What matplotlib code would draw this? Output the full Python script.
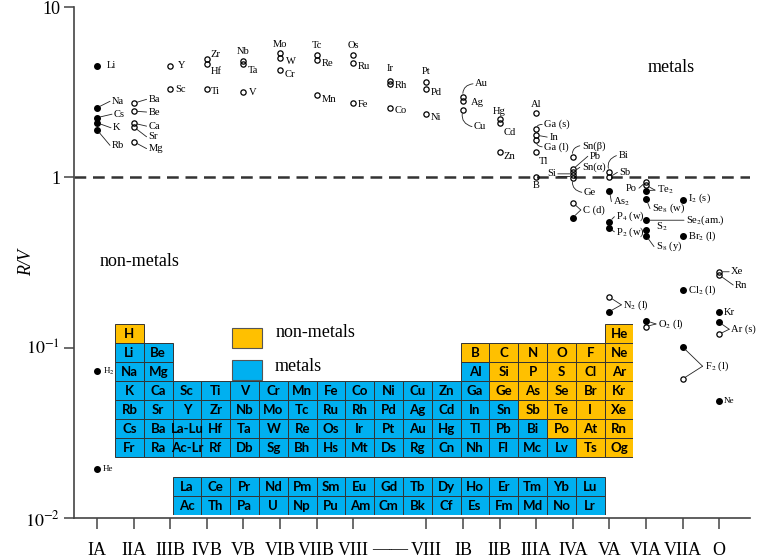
import matplotlib
matplotlib.use('Agg')
import matplotlib.pyplot as plt
from matplotlib.patches import Rectangle

plt.rcParams['font.family'] = ['Liberation Serif', 'DejaVu Serif']
plt.rcParams['mathtext.fontset'] = 'stix'

# R/V values (group column, value, filled = black dot)
names = ['Li', 'Na', 'Cs', 'K', 'Rb', 'H2', 'He',
         'Ba', 'Be', 'Ca', 'Sr', 'Mg',
         'Y', 'Sc', 'Zr', 'Hf', 'Ti', 'Nb', 'Ta', 'V',
         'Mo', 'W', 'Cr', 'Tc', 'Re', 'Mn',
         'Os', 'Ru', 'Fe', 'Ir', 'Rh', 'Co', 'Pt', 'Pd', 'Ni',
         'Au', 'Ag', 'Cu', 'Hg', 'Cd', 'Zn',
         'Al', 'Ga (s)', 'In', 'Ga (l)', 'Tl', 'B',
         'Sn(β)', 'Pb', 'Sn(α)', 'Si', 'Ge', 'C (d)', 'C (d)',
         'Bi', 'Sb', 'As2', 'P4 (w)', 'P2 (w)', 'N2 (l)', 'N2 (l)',
         'Po', 'Te2', 'Te2', 'Se8 (w)', 'Se2 (am.)', 'S2', 'S8 (y)', 'O2 (l)', 'O2 (l)',
         'I2 (s)', 'Br2 (l)', 'Cl2 (l)', 'F2 (l)', 'F2 (l)',
         'Xe', 'Rn', 'Kr', 'Ar (s)', 'Ar (s)', 'Ne']
groups = [1, 1, 1, 1, 1, 1, 1,
          2, 2, 2, 2, 2,
          3, 3, 4, 4, 4, 5, 5, 5,
          6, 6, 6, 7, 7, 7,
          8, 8, 8, 9, 9, 9, 10, 10, 10,
          11, 11, 11, 12, 12, 12,
          13, 13, 13, 13, 13, 13,
          14, 14, 14, 14, 14, 14, 14,
          15, 15, 15, 15, 15, 15, 15,
          16, 16, 16, 16, 16, 16, 16, 16, 16,
          17, 17, 17, 17, 17,
          18, 18, 18, 18, 18, 18]
rv = [4.52, 2.56, 2.24, 2.09, 1.90, 0.073, 0.0193,
      2.72, 2.45, 2.08, 1.98, 1.62,
      4.52, 3.30, 4.93, 4.63, 3.29, 4.82, 4.61, 3.16,
      5.35, 5.00, 4.27, 5.23, 4.89, 3.04,
      5.23, 4.67, 2.74, 3.69, 3.53, 2.54, 3.64, 3.30, 2.35,
      2.97, 2.82, 2.48, 2.19, 2.09, 1.41,
      2.40, 1.91, 1.77, 1.66, 1.40, 1.01,
      1.32, 1.115, 1.07, 1.03, 0.987, 0.71, 0.58,
      1.08, 1.00, 0.835, 0.549, 0.502, 0.198, 0.163,
      0.943, 0.90, 0.835, 0.75, 0.56, 0.49, 0.455, 0.144, 0.133,
      0.74, 0.45, 0.218, 0.101, 0.0655,
      0.279, 0.267, 0.161, 0.141, 0.120, 0.0489]
filled = [1, 1, 1, 1, 1, 1, 1,
          0, 0, 0, 0, 0,
          0, 0, 0, 0, 0, 0, 0, 0,
          0, 0, 0, 0, 0, 0,
          0, 0, 0, 0, 0, 0, 0, 0, 0,
          0, 0, 0, 0, 0, 0,
          0, 0, 0, 0, 0, 0,
          0, 0, 0, 0, 0, 0, 1,
          0, 0, 1, 1, 1, 0, 1,
          0, 0, 1, 1, 1, 1, 1, 1, 0,
          1, 1, 1, 1, 0,
          0, 0, 1, 1, 0, 1]

group_labels = ['IA', 'IIA', 'IIIB', 'IVB', 'VB', 'VIB', 'VIIB', 'VIII', '——',
                'VIII', 'IB', 'IIB', 'IIIA', 'IVA', 'VA', 'VIA', 'VIIA', 'O']

ptable = [
    ['H'] + [''] * 16 + ['He'],
    ['Li', 'Be'] + [''] * 10 + ['B', 'C', 'N', 'O', 'F', 'Ne'],
    ['Na', 'Mg'] + [''] * 10 + ['Al', 'Si', 'P', 'S', 'Cl', 'Ar'],
    ['K', 'Ca', 'Sc', 'Ti', 'V', 'Cr', 'Mn', 'Fe', 'Co', 'Ni', 'Cu', 'Zn', 'Ga', 'Ge', 'As', 'Se', 'Br', 'Kr'],
    ['Rb', 'Sr', 'Y', 'Zr', 'Nb', 'Mo', 'Tc', 'Ru', 'Rh', 'Pd', 'Ag', 'Cd', 'In', 'Sn', 'Sb', 'Te', 'I', 'Xe'],
    ['Cs', 'Ba', 'La-Lu', 'Hf', 'Ta', 'W', 'Re', 'Os', 'Ir', 'Pt', 'Au', 'Hg', 'Tl', 'Pb', 'Bi', 'Po', 'At', 'Rn'],
    ['Fr', 'Ra', 'Ac-Lr', 'Rf', 'Db', 'Sg', 'Bh', 'Hs', 'Mt', 'Ds', 'Rg', 'Cn', 'Nh', 'Fl', 'Mc', 'Lv', 'Ts', 'Og'],
]
lanth = ['La', 'Ce', 'Pr', 'Nd', 'Pm', 'Sm', 'Eu', 'Gd', 'Tb', 'Dy', 'Ho', 'Er', 'Tm', 'Yb', 'Lu']
actin = ['Ac', 'Th', 'Pa', 'U', 'Np', 'Pu', 'Am', 'Cm', 'Bk', 'Cf', 'Es', 'Fm', 'Md', 'No', 'Lr']
nonmetals = ['H', 'He', 'B', 'C', 'N', 'O', 'F', 'Ne', 'Si', 'P', 'S', 'Cl', 'Ar',
             'Ge', 'As', 'Se', 'Br', 'Kr', 'Sb', 'Te', 'I', 'Xe', 'Po', 'At', 'Rn', 'Ts', 'Og']

label_text = {'H2': 'H$_2$', 'As2': 'As$_2$', 'P4 (w)': 'P$_4$ (w)', 'P2 (w)': 'P$_2$ (w)',
              'N2 (l)': 'N$_2$ (l)', 'Te2': 'Te$_2$', 'Se8 (w)': 'Se$_8$ (w)',
              'Se2 (am.)': 'Se$_2$(am.)', 'S2': 'S$_2$', 'S8 (y)': 'S$_8$ (y)',
              'O2 (l)': 'O$_2$ (l)', 'I2 (s)': 'I$_2$ (s)', 'Br2 (l)': 'Br$_2$ (l)',
              'Cl2 (l)': 'Cl$_2$ (l)', 'F2 (l)': 'F$_2$ (l)'}

# label offsets in pixels from the first marker: dx, dy, connector, ha
label_pos = {
    'Li': (10, 0, None, 'left'), 'Na': (15, 6.5, 'line', 'left'), 'Cs': (17, 3.5, 'line', 'left'),
    'K': (16, -5, 'line', 'left'), 'Rb': (15, -15.5, 'line', 'left'),
    'H2': (6, 0, None, 'left'), 'He': (6, 0, None, 'left'),
    'Ba': (15, 4, 'line', 'left'), 'Be': (15, -1, 'line', 'left'), 'Ca': (15, -3, 'line', 'left'),
    'Sr': (15, -10, 'line', 'left'), 'Mg': (15, -7, 'line', 'left'),
    'Y': (8, 0, None, 'left'), 'Sc': (5, 0, None, 'left'),
    'Zr': (4, 5, None, 'left'), 'Hf': (4, -8, None, 'left'), 'Ti': (4, -2, None, 'left'),
    'Nb': (0, 9, None, 'center'), 'Ta': (4, -6, None, 'left'), 'V': (5, 0, None, 'left'),
    'Mo': (0, 9, None, 'center'), 'W': (6, -3, None, 'left'), 'Cr': (5, -5, None, 'left'),
    'Tc': (0, 9.5, None, 'center'), 'Re': (5, -4, None, 'left'), 'Mn': (5, -4, None, 'left'),
    'Os': (0, 9, None, 'center'), 'Ru': (5, -3, None, 'left'), 'Fe': (5, -2, None, 'left'),
    'Ir': (0, 12, None, 'center'), 'Rh': (5, -1, None, 'left'), 'Co': (5, -2, None, 'left'),
    'Pt': (0, 10, None, 'center'), 'Pd': (4, -3, None, 'left'), 'Ni': (4, -3, None, 'left'),
    'Au': (12, 13, 'curve-', 'left'), 'Ag': (8, -2, None, 'left'), 'Cu': (11, -16.5, 'curve+', 'left'),
    'Hg': (0, 8, None, 'center'), 'Cd': (4, -10, None, 'left'), 'Zn': (4, -5, None, 'left'),
    'Al': (0, 8, None, 'center'), 'Ga (s)': (8, 5, 'curve-', 'left'), 'In': (13, -2, 'line', 'left'),
    'Ga (l)': (8, -7, 'curve+', 'left'), 'Tl': (3, -9, None, 'left'), 'B': (0, -9, None, 'center'),
    'Sn(β)': (9, 11, 'curve-', 'left'), 'Pb': (17, 13, 'line', 'left'), 'Sn(α)': (9, 5, 'line', 'left'),
    'Si': (-17, 2, 'dline', 'right'), 'Ge': (11, -14, 'curve+', 'left'), 'C (d)': (10, -7.3, 'vee', 'left'),
    'Bi': (9, 16, 'curve-', 'left'), 'Sb': (10, 5, 'line', 'left'), 'As2': (4, -11, 'line', 'left'),
    'P4 (w)': (7, 5, 'line', 'left'), 'P2 (w)': (7, -3.5, 'line', 'left'), 'N2 (l)': (14, -7.7, 'vee', 'left'),
    'Po': (-9, -6.5, 'line', 'right'), 'Te2': (11, -5, 'vee', 'left'), 'Se8 (w)': (6, -10, 'line', 'left'),
    'Se2 (am.)': (40, 0, 'line', 'left'), 'S2': (10, 3, None, 'left'), 'S8 (y)': (10, -11, 'line', 'left'),
    'O2 (l)': (12, -3.3, 'vee', 'left'), 'I2 (s)': (5, 1, None, 'left'), 'Br2 (l)': (5, 0, None, 'left'),
    'Cl2 (l)': (5, 0, None, 'left'), 'F2 (l)': (22, -19.3, 'vee', 'left'),
    'Xe': (12, 0, 'line', 'left'), 'Rn': (16, -10, 'line', 'left'), 'Kr': (5, 0, None, 'left'),
    'Ar (s)': (12, -7, 'vee', 'left'), 'Ne': (5, 0, None, 'left'),
}

orange = '#FFC000'
blue = '#00B0F0'

fig = plt.figure(figsize=(7.58, 5.6), dpi=100)
ax = fig.add_axes([74 / 758, 42 / 560, 676 / 758, 511 / 560])
ax.set_yscale('log')
ax.set_ylim(0.01, 10)
ax.set_xlim(1 - 23 / 36.6, 1 + 653 / 36.6)
for s in ['top', 'right']:
    ax.spines[s].set_visible(False)
for s in ['left', 'bottom']:
    ax.spines[s].set_color('#444444')
    ax.spines[s].set_linewidth(1.2)

ax.set_yticks([0.01, 0.1, 1, 10])
ax.set_yticklabels(['$10^{-2}$', '$10^{-1}$', '1', '10'], fontsize=13)
ax.yaxis.set_minor_locator(matplotlib.ticker.NullLocator())
ax.tick_params(axis='y', length=7, width=1.1, color='#444444', pad=3)
ax.set_xticks(range(1, 19))
ax.set_xticklabels(group_labels, fontsize=13)
ax.tick_params(axis='x', length=8, width=1.1, color='#444444', pad=9)
ax.xaxis.get_major_ticks()[8].tick1line.set_visible(False)
ax.set_ylabel('R/V', fontsize=13, style='italic')
ax.yaxis.set_label_coords(-0.058, 0.5)

ax.axhline(1, color='#333333', lw=1.8, dashes=(4.7, 2.7))

xf = [g for g, f in zip(groups, filled) if f]
yf = [v for v, f in zip(rv, filled) if f]
xo = [g for g, f in zip(groups, filled) if not f]
yo = [v for v, f in zip(rv, filled) if not f]
ax.plot(xf, yf, 'o', ms=4, color='black', ls='none', zorder=3)
ax.plot(xo, yo, 'o', ms=3.8, mfc='none', mec='black', mew=0.9, ls='none', zorder=3)

ax.text(1.08, 0.32, 'non-metals', fontsize=13, va='center')
ax.text(16.05, 4.4, 'metals', fontsize=13, va='center')


def line(p, q, cs='arc3'):
    ax.annotate('', xy=p, xycoords='figure pixels', xytext=q, textcoords='figure pixels',
                arrowprops=dict(arrowstyle='-', color='#222222', lw=0.6, shrinkA=0, shrinkB=2.5,
                                connectionstyle=cs))


for key, (dx, dy, kind, ha) in label_pos.items():
    idx = [i for i, n in enumerate(names) if n == key]
    pts = [ax.transData.transform((groups[i], rv[i])) for i in idx]
    lx, ly = pts[0][0] + dx, pts[0][1] + dy
    fs = 6.5 if key in ('H2', 'He', 'Ne') else 7.6
    ax.annotate(label_text.get(key, key), xy=(lx, ly), xycoords='figure pixels',
                ha=ha, va='center', fontsize=fs)
    vx = lx - 2 if ha == 'left' else lx + 2
    if kind in ('line', 'vee'):
        for p in pts:
            line(tuple(p), (vx, ly))
    elif kind == 'dline':
        for o in (-1.3, 1.3):
            ax.annotate('', xy=(pts[0][0] - 3, pts[0][1] + o), xycoords='figure pixels',
                        xytext=(vx, pts[0][1] + o), textcoords='figure pixels',
                        arrowprops=dict(arrowstyle='-', color='#222222', lw=0.6, shrinkA=0, shrinkB=0))
    elif kind in ('curve-', 'curve+'):
        rad = 0.5 if kind == 'curve-' else -0.5
        line(tuple(pts[0]), (vx, ly), 'arc3,rad=%s' % rad)

# periodic table inset
tax = fig.add_axes([115 / 758, 45.4 / 560, 518.4 / 758, 190.3 / 560])
tax.set_xlim(0, 18)
tax.set_ylim(10.06, 0)
tax.axis('off')


def cell(c, r, sym):
    fc = orange if sym in nonmetals else blue
    tax.add_patch(Rectangle((c, r), 1, 1, fc=fc, ec='#333333', lw=0.7))
    tax.text(c + 0.5, r + 0.53, sym, ha='center', va='center', fontsize=9.5,
             fontweight='bold', family='Lato')


for r, row in enumerate(ptable):
    for c, sym in enumerate(row):
        if sym:
            cell(c, r, sym)
for c, sym in enumerate(lanth):
    cell(c + 2, 8.06, sym)
for c, sym in enumerate(actin):
    cell(c + 2, 9.06, sym)

tax.add_patch(Rectangle((4.07, 0.21), 1.04, 1.03, fc=orange, ec='#555555', lw=0.8))
tax.add_patch(Rectangle((4.07, 1.89), 1.04, 1.06, fc=blue, ec='#555555', lw=0.8))
tax.text(5.56, 0.42, 'non-metals', fontsize=13, va='center', family='Liberation Serif')
tax.text(5.56, 2.25, 'metals', fontsize=13, va='center', family='Liberation Serif')

fig.savefig('out.png', dpi=100)
